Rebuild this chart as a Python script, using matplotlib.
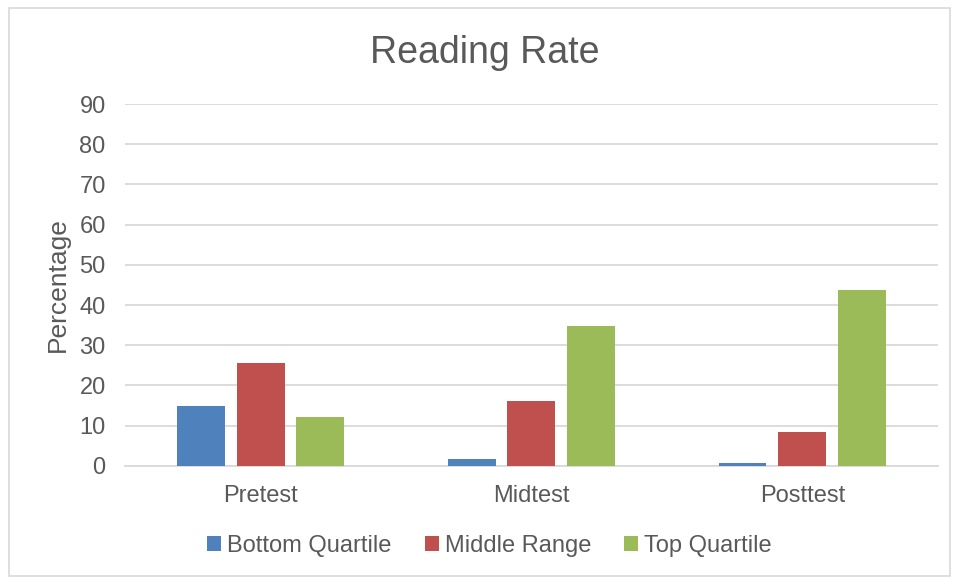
import matplotlib
matplotlib.use("Agg")
import matplotlib.pyplot as plt
from matplotlib.patches import Rectangle
import numpy as np

plt.rcParams['font.family'] = ['Liberation Sans', 'DejaVu Sans']

categories = ["Pretest", "Midtest", "Posttest"]
series_names = ["Bottom Quartile", "Middle Range", "Top Quartile"]
bottom_quartile = [14.8, 1.8, 0.6]
middle_range = [25.7, 16.1, 8.4]
top_quartile = [12.2, 34.8, 43.8]
colors = ["#4F81BD", "#C0504D", "#9BBB59"]
text_color = "#595959"

fig = plt.figure(figsize=(9.55, 5.78), dpi=100)
ax = fig.add_axes([0.131, 0.194, 0.851, 0.626])

x = np.arange(len(categories))
width = 0.177
offset = 0.221
for i, (vals, name) in enumerate(zip([bottom_quartile, middle_range, top_quartile], series_names)):
    ax.bar(x + (i - 1) * offset, vals, width, color=colors[i], label=name, zorder=3)

ax.set_xlim(-0.5, 2.5)
ax.set_ylim(0, 90)
ax.set_yticks(range(0, 91, 10))
ax.set_xticks(x)
ax.set_xticklabels(categories)
ax.yaxis.grid(True, color="#D9D9D9", linewidth=1.3, zorder=0)
for s in ["top", "right", "left"]:
    ax.spines[s].set_visible(False)
ax.spines["bottom"].set_color("#D9D9D9")
ax.spines["bottom"].set_linewidth(1.3)
ax.tick_params(axis="both", length=0, labelsize=17, colors=text_color)
ax.tick_params(axis="y", pad=14)
ax.tick_params(axis="x", pad=14)
ax.set_ylabel("Percentage", fontsize=19, color=text_color, labelpad=7)

# title is centred on the whole chart, not on the plot area
fig.text(0.508, 0.908, "Reading Rate", fontsize=27, color=text_color, ha="center", va="center")

ax.legend(loc="center", bbox_to_anchor=(0.5126, 0.055), bbox_transform=fig.transFigure, ncol=3,
          frameon=False, fontsize=17, labelcolor=text_color, handlelength=0.6, handleheight=0.6,
          handletextpad=0.25, columnspacing=1.4)

fig.patches.append(Rectangle((9 / 955, 2 / 578), 941 / 955, 568 / 578, transform=fig.transFigure,
                             fill=False, edgecolor="#D9D9D9", linewidth=1.2))

fig.savefig("out.png", dpi=100)
